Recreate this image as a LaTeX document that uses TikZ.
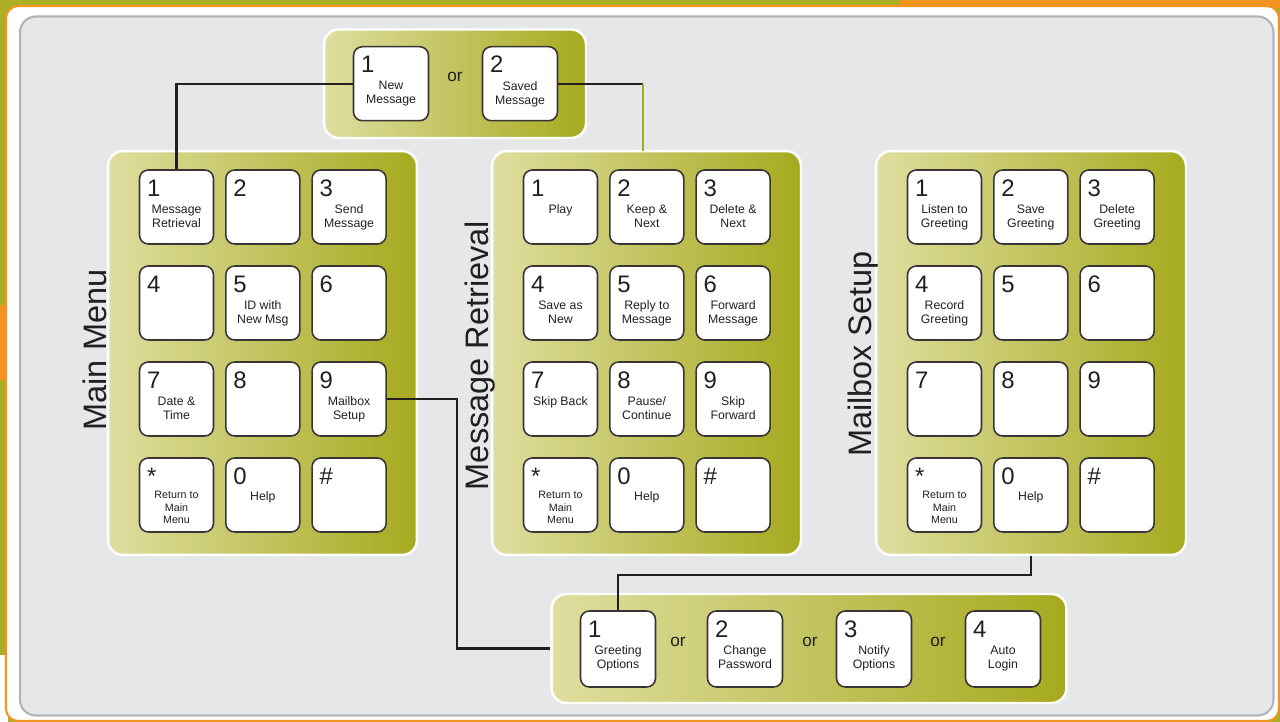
\documentclass[tikz,border=0pt]{standalone}
\usepackage{fontspec}
\setmainfont{Liberation Sans}
\definecolor{olivedark}{RGB}{166,170,30}
\definecolor{olivelight}{RGB}{223,222,160}
\definecolor{olivebg}{RGB}{170,175,38}
\definecolor{orangebg}{RGB}{242,148,32}
\definecolor{panelgray}{RGB}{230,231,232}
\definecolor{framegray}{RGB}{178,180,183}
\definecolor{inkgray}{RGB}{35,31,32}
\tikzset{
  pad/.style={draw=white, line width=1.4pt, rounded corners=8.5pt, left color=olivelight, right color=olivedark, inner sep=0pt},
  key/.style={draw=inkgray!90, line width=0.9pt, fill=white, rounded corners=5pt, minimum width=1.48cm, minimum height=1.48cm, inner sep=0pt},
  digit/.style={anchor=base west, inner sep=0pt, text=inkgray, font=\fontsize{13.6}{15}\selectfont},
  keytext/.style={anchor=north, inner sep=0pt, align=center, text=inkgray, font=\fontsize{7}{8.1}\selectfont},
  smalltext/.style={keytext, font=\fontsize{6.1}{7}\selectfont},
  padtitle/.style={rotate=90, anchor=base, inner sep=0pt, text=inkgray, font=\fontsize{18.5}{20}\selectfont},
  ortext/.style={inner sep=0pt, text=inkgray, font=\fontsize{9.8}{11}\selectfont},
  wire/.style={line width=1.3pt, inkgray}
}
\begin{document}
\begin{tikzpicture}[x=0.02cm, y=-0.02cm]
        \useasboundingbox (0,0) rectangle (1280,722);
        \fill[olivebg] (0,0) rectangle (1280,722);
        \fill[orangebg] (900,0) rectangle (1280,8);
        \fill[orangebg] (0,305) rectangle (8,380);
        \fill[white] (0,655) rectangle (8,722);
        \draw[orangebg, line width=1.2pt, fill=white, rounded corners=7pt] (6,6) rectangle (1279,721);
        \draw[framegray, line width=1.2pt, fill=panelgray, rounded corners=9pt] (20,16.5) rectangle (1273.5,715.5);

        \node[pad, minimum width=5.24cm, minimum height=2.17cm] (toppad) at (455,83.75) {};
        \node[pad, minimum width=6.18cm, minimum height=8.08cm] (mmpad) at (262.5,353) {};
        \node[pad, minimum width=6.18cm, minimum height=8.08cm] (mrpad) at (646.5,353) {};
        \node[pad, minimum width=6.2cm, minimum height=8.08cm] (mspad) at (1031,353) {};
        \node[pad, minimum width=10.3cm, minimum height=2.18cm] (optpad) at (809,648.5) {};

        \node[padtitle] (mmtitle) at (106,350) {Main Menu};
        \node[padtitle] (mrtitle) at (488,355.5) {Message Retrieval};
        \node[padtitle] (mstitle) at (871,354) {Mailbox Setup};

        % main menu
        \foreach \k/\t in {1/{Message\\Retrieval}, 2/{}, 3/{Send\\Message}, 4/{}, 5/{ID with\\New Msg}, 6/{}, 7/{Date \&\\Time}, 8/{}, 9/{Mailbox\\Setup}} {
            \pgfmathsetmacro\cx{176.5+86.3*mod(\k-1,3)}
            \pgfmathsetmacro\cy{207+96*int((\k-1)/3)}
            \node[key] (mm\k) at (\cx,\cy) {};
            \node[digit] (mm\k d) at ([shift={(8,27)}]mm\k.north west) {\k};
            \node[keytext] (mm\k t) at ([shift={(0,35)}]mm\k.north) {\t};
        }
        % message retrieval
        \foreach \k/\t in {1/{Play}, 2/{Keep \&\\Next}, 3/{Delete \&\\Next}, 4/{Save as\\New}, 5/{Reply to\\Message}, 6/{Forward\\Message}, 7/{Skip Back}, 8/{Pause/\\Continue}, 9/{Skip\\Forward}} {
            \pgfmathsetmacro\cx{560.5+86.3*mod(\k-1,3)}
            \pgfmathsetmacro\cy{207+96*int((\k-1)/3)}
            \node[key] (mr\k) at (\cx,\cy) {};
            \node[digit] (mr\k d) at ([shift={(8,27)}]mr\k.north west) {\k};
            \node[keytext] (mr\k t) at ([shift={(0,35)}]mr\k.north) {\t};
        }
        % mailbox setup
        \foreach \k/\t in {1/{Listen to\\Greeting}, 2/{Save\\Greeting}, 3/{Delete\\Greeting}, 4/{Record\\Greeting}, 5/{}, 6/{}, 7/{}, 8/{}, 9/{}} {
            \pgfmathsetmacro\cx{944.5+86.3*mod(\k-1,3)}
            \pgfmathsetmacro\cy{207+96*int((\k-1)/3)}
            \node[key] (ms\k) at (\cx,\cy) {};
            \node[digit] (ms\k d) at ([shift={(8,27)}]ms\k.north west) {\k};
            \node[keytext] (ms\k t) at ([shift={(0,35)}]ms\k.north) {\t};
        }
        % bottom row, same on all three pads
        \foreach \p/\cx in {mm/176.5, mr/560.5, ms/944.5} {
            \node[key] (\p s) at (\cx,495) {};
            \node[digit] (\p sd) at ([shift={(8,27)}]\p s.north west) {*};
            \node[smalltext] (\p st) at ([shift={(0,34)}]\p s.north) {Return to\\Main\\Menu};
            \node[key] (\p 0) at (\cx+86.3,495) {};
            \node[digit] (\p 0d) at ([shift={(8,27)}]\p 0.north west) {0};
            \node[keytext] (\p 0t) at ([shift={(0,34)}]\p 0.north) {Help};
            \node[key] (\p h) at (\cx+172.6,495) {};
            \node[digit] (\p hd) at ([shift={(8,27)}]\p h.north west) {\#};
        }

        \node[key, minimum width=1.5cm] (top1) at (391,83.7) {};
        \node[digit] (top1d) at ([shift={(8,27)}]top1.north west) {1};
        \node[keytext] (top1t) at ([shift={(0,35)}]top1.north) {New\\Message};
        \node[ortext] (topor) at (455,77) {or};
        \node[key, minimum width=1.5cm] (top2) at (520,83.7) {};
        \node[digit] (top2d) at ([shift={(8,27)}]top2.north west) {2};
        \node[keytext] (top2t) at ([shift={(0,35)}]top2.north) {Saved\\Message};

        \foreach \k/\cx/\t in {1/618/{Greeting\\Options}, 2/745/{Change\\Password}, 3/874/{Notify\\Options}, 4/1003/{Auto\\Login}} {
            \node[key, minimum width=1.5cm, minimum height=1.52cm] (opt\k) at (\cx,649) {};
            \node[digit] (opt\k d) at ([shift={(8,27)}]opt\k.north west) {\k};
            \node[keytext] (opt\k t) at ([shift={(0,35)}]opt\k.north) {\t};
        }
        \node[ortext] (or1) at (678,642) {or};
        \node[ortext] (or2) at (810,642) {or};
        \node[ortext] (or3) at (938,642) {or};

        \coordinate (mrin) at (643,151);
        \draw[wire] (mm1.north) |- (top1.west);
        \draw[wire] (top2.east) -- (top2.east -| mrin);
        \draw[wire, olivedark] (top2.east -| mrin) -- (mrin);
        \draw[wire] (mm9.east) -- ++(70,0) |- (optpad.west);
        \draw[wire] (mspad.south) -- ++(0,19) -| (opt1.north);
    \end{tikzpicture}
\end{document}
